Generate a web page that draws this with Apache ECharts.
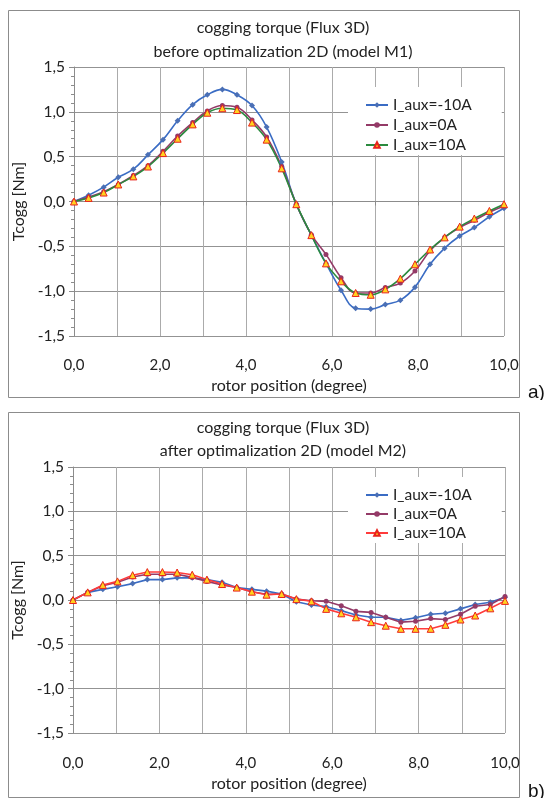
<!DOCTYPE html>
<html><head><meta charset="utf-8">
<script src="https://cdn.jsdelivr.net/npm/echarts@6/dist/echarts.min.js"></script>
<style>
html,body{margin:0;padding:0;background:#fff;width:545px;height:798px;overflow:hidden}
#a{position:absolute;left:0;top:0;width:545px;height:400px}
#b{position:absolute;left:0;top:400px;width:545px;height:398px}
</style>
</head><body><div id="a"></div><div id="b"></div>
<script>
// rotor positions (degree)
const positions = [0, 0.34, 0.69, 1.03, 1.38, 1.72, 2.07, 2.41, 2.76, 3.10, 3.45, 3.79, 4.14, 4.48, 4.83,
  5.17, 5.52, 5.86, 6.21, 6.55, 6.90, 7.24, 7.59, 7.93, 8.28, 8.62, 8.97, 9.31, 9.66, 10.0];
const seriesNames = ['I_aux=-10A', 'I_aux=0A', 'I_aux=10A'];

// a) before optimalization 2D (model M1)
const beforeMinus10 = [0, 0.07, 0.16, 0.27, 0.36, 0.52, 0.69, 0.90, 1.08, 1.19, 1.25, 1.19, 1.07, 0.83, 0.44,
  -0.03, -0.375, -0.69, -0.99, -1.19, -1.20, -1.15, -1.10, -0.955, -0.70, -0.52, -0.385, -0.29, -0.17, -0.075];
const before0 = [0, 0.05, 0.11, 0.19, 0.29, 0.40, 0.56, 0.73, 0.88, 1.01, 1.07, 1.05, 0.91, 0.72, 0.39,
  -0.03, -0.37, -0.59, -0.85, -1.02, -1.02, -0.96, -0.91, -0.775, -0.55, -0.40, -0.29, -0.21, -0.12, -0.05];
const beforePlus10 = [0, 0.04, 0.10, 0.19, 0.28, 0.39, 0.54, 0.70, 0.86, 0.99, 1.04, 1.02, 0.88, 0.69, 0.37,
  -0.03, -0.375, -0.69, -0.89, -1.02, -1.04, -0.98, -0.86, -0.70, -0.535, -0.40, -0.28, -0.19, -0.105, -0.03];

// b) after optimalization 2D (model M2)
const afterMinus10 = [0, 0.086, 0.12, 0.15, 0.185, 0.23, 0.23, 0.25, 0.25, 0.23, 0.20, 0.14, 0.12, 0.10, 0.068,
  -0.02, -0.056, -0.075, -0.12, -0.17, -0.195, -0.195, -0.23, -0.20, -0.16, -0.15, -0.10, -0.05, -0.026, 0.03];
const after0 = [0, 0.086, 0.16, 0.20, 0.26, 0.29, 0.29, 0.29, 0.255, 0.21, 0.17, 0.14, 0.094, 0.064, 0.068,
  0.01, -0.008, -0.015, -0.064, -0.128, -0.14, -0.195, -0.25, -0.24, -0.21, -0.22, -0.16, -0.07, -0.05, 0.04];
const afterPlus10 = [0, 0.086, 0.17, 0.21, 0.28, 0.315, 0.315, 0.31, 0.285, 0.23, 0.18, 0.14, 0.094, 0.06, 0.068,
  0.01, -0.015, -0.10, -0.15, -0.195, -0.25, -0.29, -0.325, -0.325, -0.325, -0.28, -0.22, -0.175, -0.094, -0.01];

// axis ticks
const xLabeled = [0, 2, 4, 6, 8, 10];
const yRange = [-1.5, 1.5];

const FONT = 'Lato';
const TXT = '#222';
function fmt(v) { return (Math.round(v * 10) / 10).toFixed(1).replace('.', ','); }
function pairs(vals) { return positions.map((x, i) => [x, vals[i]]); }

function buildOption(p) {
  const mk = (name, vals, lineColor, sym, symSize, fill, border) => ({
    name: name, type: 'line', smooth: p.smooth, data: pairs(vals),
    symbol: sym, symbolSize: symSize, showSymbol: true,
    lineStyle: { color: lineColor, width: 1.6 },
    itemStyle: { color: fill, borderColor: border, borderWidth: border === fill ? 0 : 1 },
    emphasis: { disabled: true }
  });
  const titleFont = '16px ' + FONT;
  return {
    animation: false,
    textStyle: { fontFamily: FONT },
    graphic: [
      { type: 'rect', silent: true, shape: { x: 8.5, y: p.boxTop + 0.5, width: 511, height: p.boxH },
        style: { fill: 'none', stroke: '#8c8c8c', lineWidth: 1 } },
      { type: 'text', silent: true, x: 528, y: p.tagY,
        style: { text: p.tag, font: '19px "Liberation Sans"', fill: '#111', textVerticalAlign: 'middle' } },
      { type: 'text', silent: true, x: 283, y: p.t1Y,
        style: { text: p.title1, font: titleFont, fill: TXT, textAlign: 'center', textVerticalAlign: 'middle' } },
      { type: 'text', silent: true, x: 283, y: p.t2Y,
        style: { text: p.title2, font: titleFont, fill: TXT, textAlign: 'center', textVerticalAlign: 'middle' } }
    ],
    legend: {
      orient: 'vertical', left: 348, top: p.legTop, backgroundColor: '#fff',
      padding: [10, 30, 2, 17], itemWidth: 22, itemHeight: 7, itemGap: p.legGap,
      textStyle: { fontFamily: FONT, fontSize: 15.5, color: TXT },
      data: seriesNames
    },
    grid: { left: p.gridLeft, right: 545 - p.gridRight, top: 67, height: p.gridH },
    xAxis: [{
      type: 'value', min: 0, max: 10, interval: 1, position: 'bottom',
      axisLine: { show: false, onZero: false }, axisTick: { show: false },
      axisLabel: { margin: p.xLabelMargin, fontSize: 15, color: TXT, fontFamily: FONT,
        formatter: v => xLabeled.indexOf(Math.round(v)) >= 0 ? fmt(v) : '' },
      splitLine: { show: true, lineStyle: { color: '#ababab', width: 1 } },
      name: 'rotor position (degree)', nameLocation: 'middle', nameGap: p.xNameGap,
      nameTextStyle: { fontFamily: FONT, fontSize: 16, color: TXT }
    }, {
      type: 'value', min: 0, max: 10, interval: 1, position: 'bottom',
      axisLine: { show: true, onZero: true, lineStyle: { color: '#8c8c8c', width: 1 } },
      axisTick: { show: true, length: 4, lineStyle: { color: '#8c8c8c' } },
      axisLabel: { show: false }, splitLine: { show: false }
    }],
    yAxis: {
      type: 'value', min: yRange[0], max: yRange[1], interval: 0.5,
      axisLine: { show: true, onZero: false, lineStyle: { color: '#8c8c8c', width: 1 } },
      axisTick: { show: true, length: 5, lineStyle: { color: '#8c8c8c' } },
      minorTick: { show: true, splitNumber: 5, length: 3, lineStyle: { color: '#8c8c8c' } },
      axisLabel: { formatter: fmt, margin: 9, fontSize: 15.5, color: TXT, fontFamily: FONT },
      splitLine: { lineStyle: { color: '#939393', width: 1 } },
      name: 'Tcogg [Nm]', nameLocation: 'middle', nameGap: 41,
      nameTextStyle: { fontFamily: FONT, fontSize: 16, color: TXT }
    },
    series: [
      mk(seriesNames[0], p.s1, '#3a6cc4', 'diamond', 6, '#4a6fb5', '#4a6fb5'),
      mk(seriesNames[1], p.s2, '#943a67', 'circle', 5, '#943a67', '#943a67'),
      mk(seriesNames[2], p.s3, p.c3, 'triangle', 7, '#ffd21f', '#e8231c')
    ]
  };
}

const chartA = echarts.init(document.getElementById('a'), null, { renderer: 'canvas' });
chartA.setOption(buildOption({
  title1: 'cogging torque (Flux 3D)', title2: 'before optimalization 2D (model M1)', t1Y: 28, t2Y: 52,
  boxTop: 10, boxH: 387, tag: 'a)', tagY: 393, legTop: 87, legGap: 4,
  gridLeft: 74, gridRight: 504, gridH: 269, xLabelMargin: 22, xNameGap: 38, smooth: 0.4,
  s1: beforeMinus10, s2: before0, s3: beforePlus10, c3: '#2b8a3e'
}));

const chartB = echarts.init(document.getElementById('b'), null, { renderer: 'canvas' });
chartB.setOption(buildOption({
  title1: 'cogging torque (Flux 3D)', title2: 'after optimalization 2D (model M2)', t1Y: 28, t2Y: 51,
  boxTop: 12, boxH: 385, tag: 'b)', tagY: 392, legTop: 77, legGap: 3,
  gridLeft: 73, gridRight: 505, gridH: 266, xLabelMargin: 23, xNameGap: 40, smooth: false,
  s1: afterMinus10, s2: after0, s3: afterPlus10, c3: '#ff3b3b'
}));
</script>
</body></html>
